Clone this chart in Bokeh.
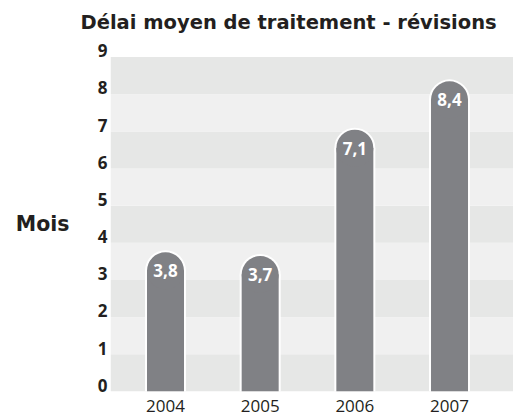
from bokeh.plotting import figure
from bokeh.models import Range1d, LinearAxis, FixedTicker
from bokeh.core.properties import value
from bokeh.embed import file_html
from bokeh.resources import INLINE

# ---- data ----
years = ["2004", "2005", "2006", "2007"]
delays = [3.8, 3.7, 7.1, 8.4]
y_ticks = [0, 1, 2, 3, 4, 5, 6, 7, 8, 9]
title_text = "Délai moyen de traitement - révisions"
y_title = "Mois"

# ---- style ----
FONT = "Open Sans"
FONT_T = "DejaVu Sans"
TXT = "#231f20"
BAR = "#808185"
BAND_DARK = "#e6e7e6"
BAND_LIGHT = "#f0f0f0"

W, H = 513, 416
BL, BR, BT, BB = 110, 0, 38, 25
FW, FH = W - BL - BR, H - BT - BB
Y_END = 9.5
PX_X = 94.67
X_START = -0.581
X_END = X_START + FW / PX_X
PX_Y = FH / Y_END

p = figure(width=W, height=H, output_backend="svg", toolbar_location=None,
           x_range=Range1d(X_START, X_END), y_range=Range1d(0, Y_END),
           y_axis_location=None, min_border_left=BL, min_border_right=BR,
           min_border_top=BT, min_border_bottom=BB)
p.outline_line_color = None
p.background_fill_color = "white"
p.border_fill_color = "white"
p.xgrid.visible = False
p.ygrid.visible = False

# alternating horizontal bands
n = len(y_ticks) - 1
p.quad(left=[X_START] * n, right=[X_END] * n, bottom=y_ticks[:-1], top=y_ticks[1:],
       fill_color=[BAND_DARK if i % 2 == 0 else BAND_LIGHT for i in range(n)],
       line_color=None)

xs = list(range(len(years)))
outer_px, inner_px = 41, 37
r_data = (outer_px / 2) / PX_Y
centers = [v - r_data for v in delays]
p.vbar(x=xs, top=centers, bottom=0, width=outer_px / PX_X, fill_color="white", line_color=None)
p.scatter(x=xs, y=centers, size=outer_px, marker="circle", fill_color="white", line_color=None)
p.vbar(x=xs, top=centers, bottom=0, width=inner_px / PX_X, fill_color=BAR, line_color=None)
p.scatter(x=xs, y=centers, size=inner_px, marker="circle", fill_color=BAR, line_color=None)

labels = [f"{v:.1f}".replace(".", ",") for v in delays]
p.text(x=xs, y=centers, text=labels, text_color="white", text_font=value(FONT),
       text_font_style="bold", text_font_size="17px", text_align="center",
       text_baseline="middle")

# x axis
xax = p.xaxis[0]
xax.ticker = FixedTicker(ticks=xs)
xax.major_label_overrides = {i: y for i, y in enumerate(years)}
xax.axis_line_color = None
xax.major_tick_line_color = None
xax.minor_tick_line_color = None
xax.major_tick_out = 0
xax.major_tick_in = 0
xax.major_label_standoff = 8
xax.major_label_text_font = FONT
xax.major_label_text_font_size = "17px"
xax.major_label_text_color = TXT

# y axis with labels sitting just above their lines
d = 0.17
p.extra_y_ranges = {"lab": Range1d(0 - d, Y_END - d)}
yax = LinearAxis(y_range_name="lab", ticker=FixedTicker(ticks=y_ticks))
yax.axis_line_color = None
yax.major_tick_line_color = None
yax.minor_tick_line_color = None
yax.major_tick_out = 0
yax.major_tick_in = 0
yax.major_label_standoff = 3
yax.major_label_text_font = FONT
yax.major_label_text_font_style = "bold"
yax.major_label_text_font_size = "17px"
yax.major_label_text_color = TXT
p.add_layout(yax, "left")

# "Mois" as a horizontal label of an outer left axis
mois_y = 4.52
max_ = LinearAxis(ticker=FixedTicker(ticks=[mois_y]),
                  major_label_overrides={mois_y: y_title})
max_.axis_line_color = None
max_.major_tick_line_color = None
max_.minor_tick_line_color = None
max_.major_tick_out = 0
max_.major_tick_in = 0
max_.major_label_standoff = 25
max_.major_label_text_font = FONT_T
max_.major_label_text_font_style = "bold"
max_.major_label_text_font_size = "20.5px"
max_.major_label_text_color = TXT
p.add_layout(max_, "left")

p.title.text = title_text
p.title.align = "left"
p.title.offset = -30
p.title.text_font = FONT_T
p.title.text_font_style = "bold"
p.title.text_font_size = "19.5px"
p.title.text_color = TXT
p.title.standoff = 10

open("out.html", "w").write(file_html(p, INLINE))
